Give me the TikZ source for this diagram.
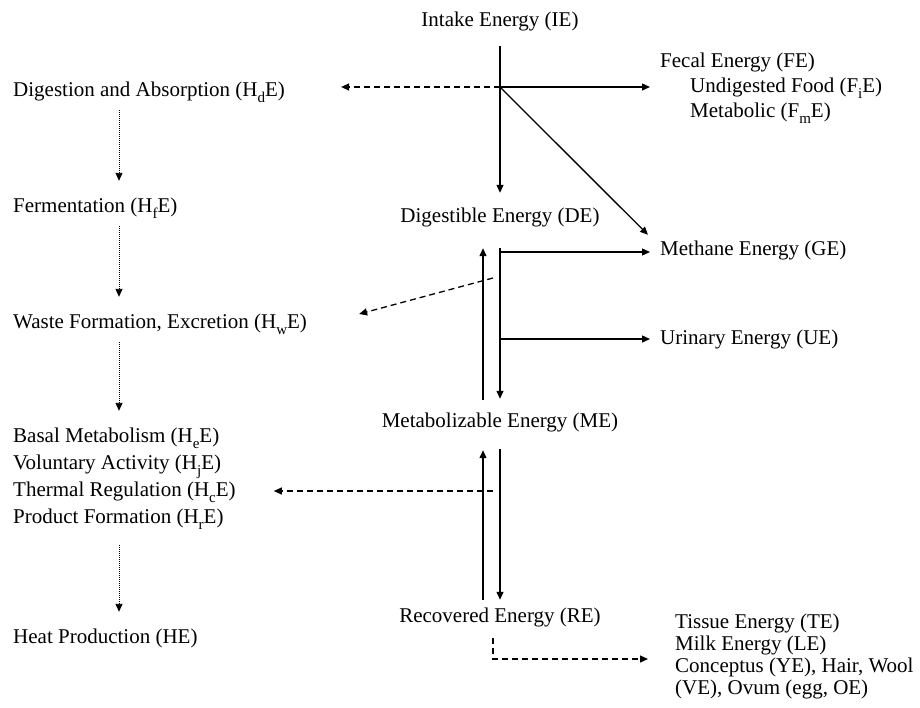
\documentclass[tikz,border=0pt]{standalone}
\usepackage{fontspec}
\setmainfont{Liberation Serif}
\usetikzlibrary{arrows.meta}
\newcommand\hsub[1]{\raisebox{-6pt}{\fontsize{15}{15}\selectfont #1}}

\begin{document}
\begin{tikzpicture}[
        x=1pt, y=-1pt,
        every node/.style={font=\fontsize{21}{25}\selectfont, inner sep=0pt, text height=15pt, text depth=5pt}, % Times-like text
        arr/.style={line width=1.3pt, -{Triangle[length=8pt,width=7pt]}},
        dasharr/.style={arr, dash pattern=on 6pt off 4pt},
        dotarr/.style={line width=0.9pt, dash pattern=on 1pt off 1pt, -{Triangle[length=8pt,width=7pt]}}
    ]
        \useasboundingbox (0,0) rectangle (920,707);
        % centre column
        \node[anchor=base] (ie) at (500,26) {Intake Energy (IE)};
        \node[anchor=base] (de) at (500,222) {Digestible Energy (DE)};
        \node[anchor=base] (me) at (500,427) {Metabolizable Energy (ME)};
        \node[anchor=base] (re) at (500,622) {Recovered Energy (RE)};
        % right column
        \node[anchor=base west] (fe) at (660,67) {Fecal Energy (FE)};
        \node[anchor=base west] (fi) at (690,92) {Undigested Food (F\hsub{i}E)};
        \node[anchor=base west] (fm) at (690,117) {Metabolic (F\hsub{m}E)};
        \node[anchor=base west] (ge) at (660,255) {Methane Energy (GE)};
        \node[anchor=base west] (ue) at (660,344) {Urinary Energy (UE)};
        \node[anchor=base west] (te) at (675,628) {Tissue Energy (TE)};
        \node[anchor=base west] (le) at (675,650) {Milk Energy (LE)};
        \node[anchor=base west] (ye) at (675,672) {Conceptus (YE), Hair, Wool};
        \node[anchor=base west] (oe) at (675,694) {(VE), Ovum (egg, OE)};
        % left column
        \node[anchor=base west] (hd) at (13,96) {Digestion and Absorption (H\hsub{d}E)};
        \node[anchor=base west] (hf) at (13,212) {Fermentation (H\hsub{f}E)};
        \node[anchor=base west] (hw) at (13,328) {Waste Formation, Excretion (H\hsub{w}E)};
        \node[anchor=base west] (he) at (13,442) {Basal Metabolism (H\hsub{e}E)};
        \node[anchor=base west] (hj) at (13,469) {Voluntary Activity (H\hsub{j}E)};
        \node[anchor=base west] (hc) at (13,496) {Thermal Regulation (H\hsub{c}E)};
        \node[anchor=base west] (hr) at (13,523) {Product Formation (H\hsub{r}E)};
        \node[anchor=base west] (heat) at (13,643) {Heat Production (HE)};

        \coordinate (fork) at (500,87);
        \coordinate (gb) at (500,252);
        \coordinate (ub) at (500,339);
        \coordinate (wb) at (493,278);
        \coordinate (cb) at (493,491);
        \coordinate (rb) at (493,638);

        % IE to DE and losses
        \draw[arr] ([yshift=-15pt]ie.south) -- ([yshift=14pt]de.north);
        \draw[arr, shorten >=10pt] (fork) -- (fork -| fe.west);
        \draw[dasharr, shorten >=56pt] (fork) -- (fork -| hd.east);
        \draw[arr] (fork) -- ([shift={(-12pt,5pt)}]ge.north west);
        % DE to ME
        \draw[arr] ([yshift=-21pt]de.south) -- ([yshift=13pt]me.north);
        \draw[arr] ([xshift=-17pt,yshift=12pt]me.north) -- ([xshift=-17pt,yshift=-21pt]de.south);
        \draw[arr, shorten >=10pt] (gb) -- (gb -| ge.west);
        \draw[arr, shorten >=10pt] (ub) -- (ub -| ue.west);
        \draw[dasharr] (wb) -- ([shift={(52pt,9pt)}]hw.east);
        % ME to RE
        \draw[arr] ([yshift=-17pt]me.south) -- ([yshift=7pt]re.north);
        \draw[arr] ([xshift=-17pt,yshift=7pt]re.north) -- ([xshift=-17pt,yshift=-18pt]me.south);
        \draw[dasharr, shorten >=38pt] (cb) -- (cb -| hc.east);
        \draw[dasharr] (rb) |- ([shift={(-27pt,8pt)}]ye.west);
        % heat losses
        \draw[dotarr] ([xshift=106pt,yshift=-9pt]hd.south west) -- ([xshift=106pt,yshift=16pt]hf.north west);
        \draw[dotarr] ([xshift=106pt,yshift=-9pt]hf.south west) -- ([xshift=106pt,yshift=16pt]hw.north west);
        \draw[dotarr] ([xshift=106pt,yshift=-9pt]hw.south west) -- ([xshift=106pt,yshift=16pt]he.north west);
        \draw[dotarr] ([xshift=106pt,yshift=-17pt]hr.south west) -- ([xshift=106pt,yshift=16pt]heat.north west);
    \end{tikzpicture}
\end{document}
